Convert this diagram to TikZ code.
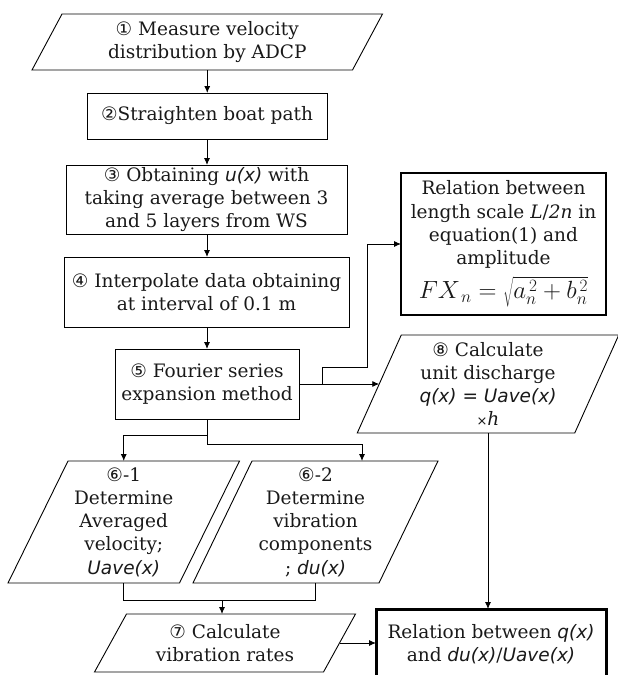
\documentclass[tikz,border=0pt]{standalone}
\usepackage{fontspec}
\setmainfont{DejaVu Serif}
\newfontfamily\cnumfam{DejaVu Sans}
\newfontfamily\isansfam{DejaVu Sans}
\usetikzlibrary{arrows.meta}
\newcommand{\ci}[1]{{\cnumfam #1}}
\newcommand{\si}[1]{{\isansfam\itshape #1}}
\newcommand{\paral}[2]{\draw[ln] ([xshift=-#2pt]#1.south west) -- ([xshift=#2pt]#1.north west) -- ([xshift=#2pt]#1.north east) -- ([xshift=-#2pt]#1.south east) -- cycle;}
\begin{document}
\begin{tikzpicture}[x=1pt,y=-1pt,
  every node/.style={font=\fontsize{18.5}{23.3}\selectfont, align=center, inner sep=0pt, outer sep=0pt, text=black!90},
  box/.style={draw, line width=0.9pt},
  hid/.style={draw=none},
  ln/.style={line width=0.9pt},
  arr/.style={line width=0.9pt, -{Latex[length=7pt,width=6pt]}}]
\useasboundingbox (0,0) rectangle (618,675);

% nodes
\node[hid, minimum width=320.5pt, minimum height=56pt] (b1) at (207.25,42) {\ci{①} Measure velocity\\distribution by ADCP};
\node[box, minimum width=240pt, minimum height=46pt] (b2) at (207,116) {\ci{②}Straighten boat path};
\node[box, minimum width=281pt, minimum height=69pt] (b3) at (206.5,199.5) {\ci{③} Obtaining \si{u(x)} with\\taking average between 3\\and 5 layers from WS};
\node[box, minimum width=285pt, minimum height=70pt] (b4) at (206.5,292) {\ci{④} Interpolate data obtaining\\at interval of 0.1 m};
\node[box, minimum width=184pt, minimum height=70pt] (b5) at (207,384) {\ci{⑤} Fourier series\\expansion method};
\node[box, line width=1.8pt, minimum width=205pt, minimum height=142pt] (rel) at (503.5,244) {Relation between\\length scale \textit{L}/\textit{2n} in\\equation(1) and\\amplitude\\[7pt] {\fontsize{24}{26}\selectfont $FX_{\,n}=\sqrt{a_n^{\,2}+b_n^{\,2}}$}};
\node[hid, minimum width=217.5pt, minimum height=98pt] (b8) at (488,384) {\ci{⑧} Calculate\\unit discharge\\\si{q(x) = Uave(x)}\\{\fontsize{13}{14}\selectfont\cnumfam ×}\textit{h}};
\node[hid, minimum width=171.5pt, minimum height=122pt] (b61) at (123.75,522) {\ci{⑥}-1\\Determine\\Averaged\\velocity;\\\si{Uave(x)}};
\node[hid, minimum width=186pt, minimum height=122pt] (b62) at (315.5,522) {\ci{⑥}-2\\Determine\\vibration\\components\\; \si{du(x)}};
\node[hid, minimum width=229pt, minimum height=58pt] (b7) at (225,643) {\ci{⑦} Calculate\\vibration rates};
\node[box, line width=3pt, minimum width=230pt, minimum height=71pt] (fin) at (491,644.5) {Relation between \si{q(x)}\\and \si{du(x)}/\si{Uave(x)}};

% parallelogram outlines
\paral{b1}{15}
\paral{b8}{22}
\paral{b61}{30}
\paral{b62}{29.5}
\paral{b7}{16}

% connectors
\draw[arr] (b1.south) -- (b1.south |- b2.north);
\draw[arr] (b2.south) -- (b2.south |- b3.north);
\draw[arr] (b2.south |- b3.south) -- (b2.south |- b4.north);
\draw[arr] (b2.south |- b4.south) -- (b2.south |- b5.north);
\draw[arr] (b5.east) -- (b8.west);
\coordinate (br) at ([xshift=23pt]b5.east);
\draw[arr] (br) -- ++(0,-17) -- ++(45,0) |- (rel.west);
\coordinate (j5a) at ([yshift=-16pt]b5.south);
\coordinate (j5b) at ([yshift=-25pt]b5.south);
\draw[ln] (b5.south) -- (j5b);
\draw[arr] (j5a) -| (b61.north);
\draw[arr] (j5b) -| ([xshift=46.5pt]b62.north);
\draw[ln] (b61.south) -- ++(0,17) -| (b62.south);
\coordinate (j7) at ([yshift=-17pt]b61.south -| b7.north);
\draw[arr] ([xshift=-3pt]j7) -- ([xshift=-3pt]b7.north);
\draw[arr] (b7.east) -- (b7.east -| fin.west);
\draw[arr] (b8.south) -- (b8.south |- fin.north);
\end{tikzpicture}
\end{document}
